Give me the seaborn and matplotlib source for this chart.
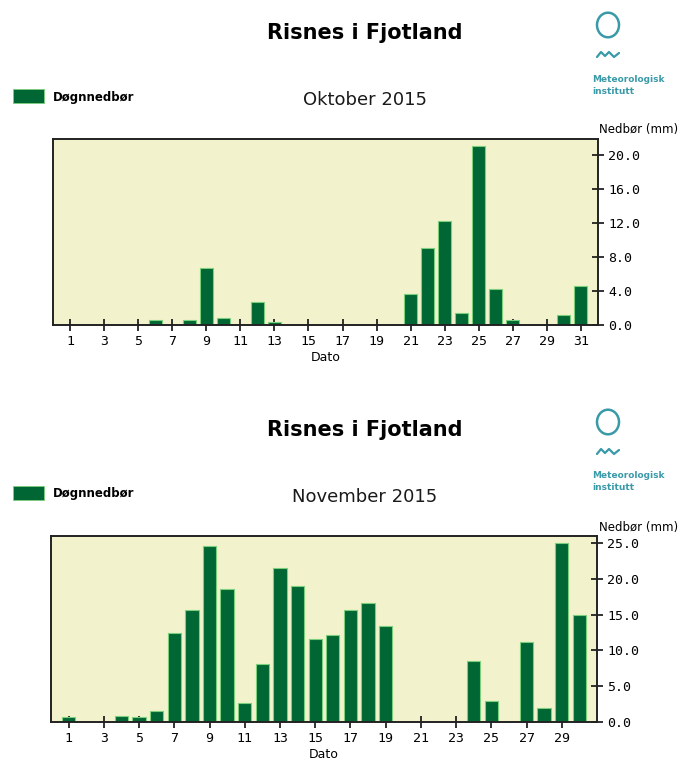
import matplotlib
matplotlib.use("Agg")
import matplotlib.pyplot as plt
import seaborn as sns
import numpy as np
import pandas as pd
from matplotlib.patches import Rectangle, Circle
from matplotlib.lines import Line2D

# daily precipitation (mm)
oct_days = list(range(1, 32))
oct_values = [0, 0, 0, 0, 0, 0.6, 0, 0.6, 6.7, 0.8,
              0, 2.7, 0.3, 0, 0, 0, 0, 0, 0, 0,
              3.6, 9.1, 12.2, 1.4, 21.1, 4.2, 0.6, 0, 0, 1.2, 4.6]
nov_days = list(range(1, 31))
nov_values = [0.7, 0, 0, 0.9, 0.7, 1.6, 12.5, 15.7, 24.6, 18.6,
              2.7, 8.1, 21.5, 19.0, 11.6, 12.1, 15.7, 16.6, 13.4, 0,
              0, 0, 0, 8.5, 2.9, 0, 11.2, 2.0, 25.0, 15.0]
oct_yticks = [0, 4, 8, 12, 16, 20]
nov_yticks = [0, 5, 10, 15, 20, 25]

station = "Risnes i Fjotland"
legend_label = "Døgnnedbør"
ylabel = "Nedbør (mm)"
xlabel = "Dato"

W, H = 680, 760
BAR = "#006633"
EDGE = "#7ccf7c"
BG = "#f2f2cc"
TEAL = "#3a9aa8"

sns.set_style("white")
plt.rcParams["font.family"] = ["DejaVu Sans"]
plt.rcParams["text.color"] = "black"
plt.rcParams["xtick.color"] = "black"
plt.rcParams["ytick.color"] = "black"
plt.rcParams["axes.labelcolor"] = "black"

fig = plt.figure(figsize=(W / 100, H / 100), dpi=100)


def fx(x):
    return x / W


def fy(y):
    return 1 - y / H


def panel(dy, days, values, yticks, ytop, month, left, right):
    # header
    fig.text(fx(365), fy(dy + 33), station, ha="center", va="center",
             fontsize=15, fontweight="bold")
    fig.text(fx(365), fy(dy + 100), month, ha="center", va="center",
             fontsize=13, color="#1a1a1a")
    fig.patches.append(Rectangle((fx(13), fy(dy + 103)), 31 / W, 14 / H,
                                 transform=fig.transFigure, facecolor=BAR,
                                 edgecolor=EDGE, linewidth=0.6))
    fig.text(fx(53), fy(dy + 97), legend_label, ha="left", va="center",
             fontsize=8.5, fontweight="bold")
    # logo
    fig.patches.append(Circle((fx(608), fy(dy + 25)), 11 / W,
                              transform=fig.transFigure, fill=False,
                              edgecolor=TEAL, linewidth=1.8))
    wx = np.array([597, 601, 605, 609, 614, 619])
    wy = np.array([57, 52, 56, 52, 57, 53]) + dy
    fig.lines.append(Line2D(fx(wx), fy(wy), transform=fig.transFigure,
                            color=TEAL, linewidth=1.6))
    fig.text(fx(592), fy(dy + 79), "Meteorologisk", ha="left", va="center",
             fontsize=6.5, fontweight="bold", color=TEAL)
    fig.text(fx(592), fy(dy + 91), "institutt", ha="left", va="center",
             fontsize=6.5, fontweight="bold", color=TEAL)
    fig.text(fx(678), fy(dy + 130), ylabel, ha="right", va="center",
             fontsize=8.5)

    ax = fig.add_axes([fx(left), fy(dy + 325), (right - left) / W, 186 / H])
    df = pd.DataFrame({"day": days, "mm": values})
    sns.barplot(data=df, x="day", y="mm", native_scale=True, width=0.76,
                color=BAR, saturation=1, edgecolor=EDGE, linewidth=0.8, ax=ax)
    ax.set_facecolor(BG)
    ax.set_xlim(0, len(days) + 1)
    ax.set_ylim(0, ytop)
    ax.set_xticks(days[::2])
    ax.set_xticklabels([str(d) for d in days[::2]], fontsize=9.5,
                       family="DejaVu Sans Mono")
    ax.yaxis.tick_right()
    ax.set_yticks(yticks)
    ax.set_yticklabels([f"{v:.1f}" for v in yticks], fontsize=9.5,
                       family="DejaVu Sans Mono")
    ax.tick_params(axis="both", direction="inout", length=9, width=1.2,
                   color="#111111", pad=3)
    ax.tick_params(axis="y", right=True, left=False)
    ax.tick_params(axis="x", bottom=True)
    for s in ax.spines.values():
        s.set_visible(True)
        s.set_color("#222222")
        s.set_linewidth(1.4)
    ax.set_xlabel(xlabel, fontsize=9, labelpad=2)
    ax.set_ylabel("")
    return ax


panel(0, oct_days, oct_values, oct_yticks, 21.9, "Oktober 2015", 53, 598)
panel(397, nov_days, nov_values, nov_yticks, 26.0, "November 2015", 51, 597)

fig.savefig("out.png", dpi=100, facecolor="white")
plt.close(fig)
